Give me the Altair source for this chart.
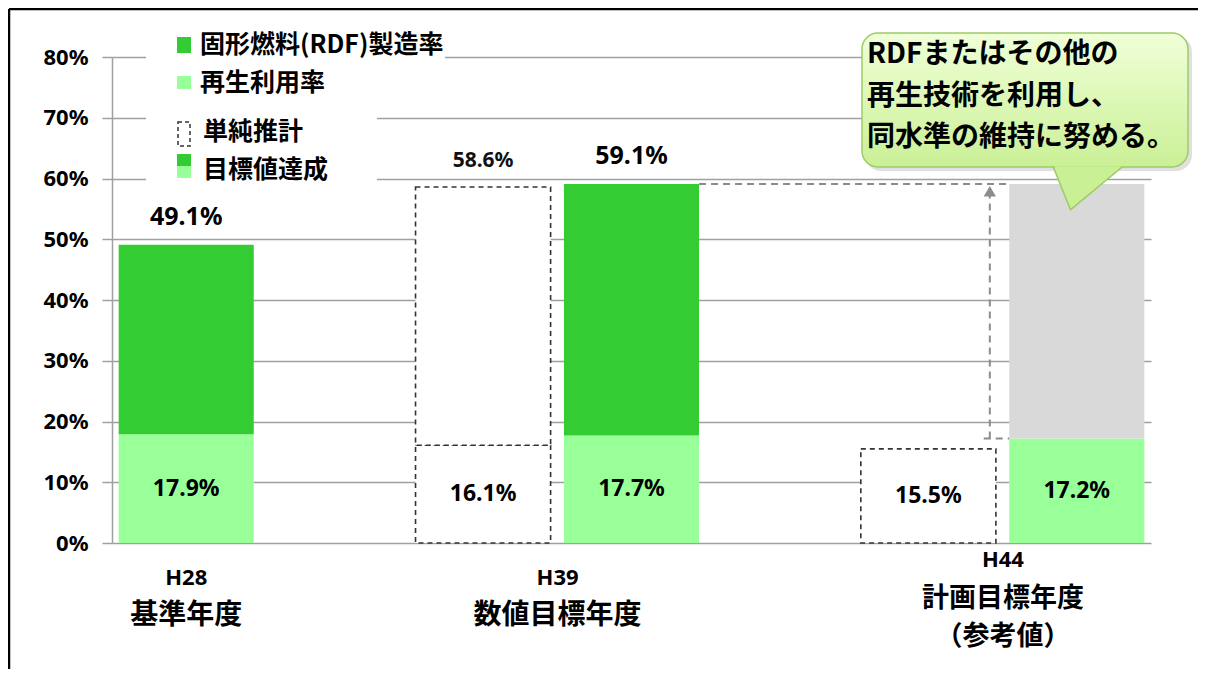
import altair as alt
import pandas as pd

CJK = "Noto Sans CJK JP"
LAT = "Noto Sans"

GREEN = "#33CC33"
LIGHT = "#99FF99"
GRAY = "#D9D9D9"
GRID = "#A0A0A0"
DASH = "#333333"
ARROW = "#8C8C8C"

# ---- data -------------------------------------------------------------
slots = ["H28", "gap1", "H39推計", "H39目標", "gap2", "H44推計", "H44目標"]

bar_slot = ["H28", "H39推計", "H39目標", "H44推計", "H44目標"]
bar_kind = ["実績", "推計", "目標", "推計", "目標"]
upper_kind = ["製造", "推計", "製造", "なし", "維持"]
recycle_rate = [17.9, 16.1, 17.7, 15.5, 17.2]
total_rate = [49.1, 58.6, 59.1, None, 59.1]

years = ["H28", "H39", "H44"]
year_names = [["基準年度"], ["数値目標年度"], ["計画目標年度", "（参考値）"]]
year_slot = ["H28", "H39推計", "H44推計"]

legend_labels = ["固形燃料(RDF)製造率", "再生利用率", "単純推計", "目標値達成"]
callout_lines = ["RDFまたはその他の", "再生技術を利用し、", "同水準の維持に努める。"]
y_ticks = [0, 10, 20, 30, 40, 50, 60, 70, 80]

# ---- geometry ---------------------------------------------------------
W, H = 1039, 486
xs = alt.Scale(domain=slots, paddingInner=0.09, paddingOuter=0.045)
ys = alt.Scale(domain=[0, 80], nice=False)
yaxis = alt.Axis(values=y_ticks, labelExpr="datum.value + '%'", labelFont=LAT,
                 labelFontSize=22, labelFontWeight="bold", labelColor="black",
                 labelPadding=14, tickSize=10, tickColor=GRID, tickWidth=1.5,
                 domainColor=GRID, domainWidth=1.5, gridColor=GRID, gridWidth=1.5,
                 grid=True, title=None)


def X(field, bp=None):
    if bp is None:
        return alt.X(field, type="nominal", scale=xs, axis=None)
    return alt.X(field, type="nominal", scale=xs, axis=None, bandPosition=bp)


def Y(field):
    return alt.Y(field, type="quantitative", scale=ys, axis=yaxis)


bars = pd.DataFrame({"slot": bar_slot, "kind": bar_kind, "upper": upper_kind,
                     "recycle": recycle_rate, "total": total_rate})
bars["base"] = 0.0
bars["mid"] = bars["recycle"] / 2
bars["lbl"] = bars["recycle"].map(lambda v: f"{v:.1f}%")
bars["tlbl"] = bars["total"].map(lambda v: "" if pd.isna(v) else f"{v:.1f}%")

solid_low = bars[bars["kind"] != "推計"]
dash_low = bars[bars["kind"] == "推計"]
solid_up = bars[bars["upper"].isin(["製造", "維持"])]
dash_up = bars[bars["upper"] == "推計"]

layers = []

layers.append(alt.Chart(solid_low).mark_bar(color=LIGHT).encode(
    x=X("slot"), y=Y("base"), y2="recycle:Q"))
layers.append(alt.Chart(solid_up).mark_bar().encode(
    x=X("slot"), y=Y("recycle"), y2="total:Q",
    color=alt.Color("upper:N", scale=alt.Scale(domain=["製造", "維持"], range=[GREEN, GRAY]), legend=None)))
layers.append(alt.Chart(dash_low).mark_bar(fill="white", stroke=DASH, strokeWidth=1.6, strokeDash=[5, 4]).encode(
    x=X("slot"), y=Y("base"), y2="recycle:Q"))
layers.append(alt.Chart(dash_up).mark_bar(fill="white", stroke=DASH, strokeWidth=1.6, strokeDash=[5, 4]).encode(
    x=X("slot"), y=Y("recycle"), y2="total:Q"))

# inner labels
layers.append(alt.Chart(bars).mark_text(font=LAT, fontSize=23, fontWeight="bold", color="black", baseline="middle").encode(
    x=X("slot"), y=Y("mid"), text="lbl:N"))
# top labels
layers.append(alt.Chart(bars[bars["upper"] == "製造"]).mark_text(font=LAT, fontSize=25, fontWeight="bold", color="black", baseline="middle", dy=-28).encode(
    x=X("slot"), y=Y("total"), text="tlbl:N"))
layers.append(alt.Chart(dash_up).mark_text(font=LAT, fontSize=21, fontWeight="bold", color="#111", baseline="middle", dy=-26).encode(
    x=X("slot"), y=Y("total"), text="tlbl:N"))

# ---- arrow annotation --------------------------------------------------
target_level = total_rate[2]
keep_base = recycle_rate[4]
arr_h = pd.DataFrame({"a": ["H39目標"], "b": ["H44目標"], "v": [target_level]})
layers.append(alt.Chart(arr_h).mark_rule(color=ARROW, strokeWidth=2, strokeDash=[7, 5]).encode(
    x=X("a", 1), x2=alt.X2("b", bandPosition=0), y=Y("v")))
arr_v = pd.DataFrame({"a": ["H44推計"], "lo": [keep_base], "hi": [target_level - 1.8], "head": [target_level - 1.2]})
layers.append(alt.Chart(arr_v).mark_rule(color=ARROW, strokeWidth=2, strokeDash=[7, 5]).encode(
    x=X("a", 0.955), y=Y("lo"), y2="hi:Q"))
layers.append(alt.Chart(arr_v).mark_point(shape="triangle-up", filled=True, color=ARROW, opacity=1, size=150).encode(
    x=X("a", 0.955), y=Y("head")))
arr_b = pd.DataFrame({"a": ["H44推計"], "b": ["H44目標"], "v": [keep_base]})
layers.append(alt.Chart(arr_b).mark_rule(color=ARROW, strokeWidth=2, strokeDash=[7, 5]).encode(
    x=X("a", 0.91), x2=alt.X2("b", bandPosition=0), y=Y("v")))

# ---- category labels ---------------------------------------------------
for i, (yr, nm, sl) in enumerate(zip(years, year_names, year_slot)):
    bp = 0.5 if i == 0 else 1.0
    ddx = 0 if i == 0 else 7
    multi = len(nm) > 1
    year_y = 503 if multi else 521
    name_y = 542 if multi else 559
    gap = 38
    fs = 27 if multi else 28
    d = pd.DataFrame({"slot": [sl], "t": [yr]})
    layers.append(alt.Chart(d).mark_text(font=LAT, fontSize=22, fontWeight="bold", color="black", baseline="middle", dx=ddx).encode(
        x=X("slot", bp), y=alt.value(year_y), text="t:N"))
    for j, line in enumerate(nm):
        d2 = pd.DataFrame({"slot": [sl], "t": [line]})
        layers.append(alt.Chart(d2).mark_text(font=CJK, fontSize=fs, fontWeight="bold", color="black", baseline="middle", dx=ddx).encode(
            x=X("slot", bp), y=alt.value(name_y + gap * j), text="t:N"))

# ---- legend (custom) ---------------------------------------------------
one = pd.DataFrame({"k": [0]})
layers.append(alt.Chart(one).mark_rect(fill="white").encode(
    x=alt.value(34), x2=alt.value(333), y=alt.value(-34), y2=alt.value(43)))
layers.append(alt.Chart(one).mark_rect(fill="white").encode(
    x=alt.value(34), x2=alt.value(265), y=alt.value(43), y2=alt.value(128)))
layers.append(alt.Chart(one).mark_rect(fill=GREEN).encode(
    x=alt.value(65), x2=alt.value(79), y=alt.value(-20), y2=alt.value(-4)))
layers.append(alt.Chart(one).mark_rect(fill=LIGHT).encode(
    x=alt.value(65), x2=alt.value(79), y=alt.value(19), y2=alt.value(32)))
layers.append(alt.Chart(one).mark_rect(fill="white", stroke=DASH, strokeWidth=1.5, strokeDash=[4, 3]).encode(
    x=alt.value(66), x2=alt.value(78), y=alt.value(65), y2=alt.value(89)))
layers.append(alt.Chart(one).mark_rect(fill=GREEN).encode(
    x=alt.value(65), x2=alt.value(79), y=alt.value(97), y2=alt.value(109)))
layers.append(alt.Chart(one).mark_rect(fill=LIGHT).encode(
    x=alt.value(65), x2=alt.value(79), y=alt.value(109), y2=alt.value(121)))
leg_y = [-12, 26, 75, 113]
leg_x = [88, 88, 91, 91]
for lab, ly, lx in zip(legend_labels, leg_y, leg_x):
    layers.append(alt.Chart(pd.DataFrame({"t": [lab]})).mark_text(
        font=CJK, fontSize=25, fontWeight="bold", color="black", align="left", baseline="middle").encode(
        x=alt.value(lx), y=alt.value(ly), text="t:N"))

# ---- callout -----------------------------------------------------------
grad = alt.Gradient(gradient="linear", stops=[alt.GradientStop(color="#F0FFD8", offset=0),
                                                alt.GradientStop(color="#CAF096", offset=1)],
                    x1=0, x2=0, y1=0, y2=1)
tail_path = "M -1 -0.62 L 1 -0.62 L -0.5 0.62 Z"
layers.append(alt.Chart(one).mark_rect(fill="black", opacity=0.12, cornerRadius=16).encode(
    x=alt.value(753), x2=alt.value(1080), y=alt.value(-21), y2=alt.value(114)))
layers.append(alt.Chart(one).mark_point(shape=tail_path, filled=True, fill="#CAF096", stroke="#9CCB68",
                                        strokeWidth=1.5, opacity=1, size=4900).encode(
    x=alt.value(976), y=alt.value(131)))
layers.append(alt.Chart(one).mark_rect(fill=grad, stroke="#9CCB68", strokeWidth=1.5, cornerRadius=16).encode(
    x=alt.value(750), x2=alt.value(1076), y=alt.value(-24), y2=alt.value(110)))
layers.append(alt.Chart(one).mark_point(shape=tail_path, filled=True, fill="#CAF096", strokeWidth=0,
                                        opacity=1, size=4500).encode(
    x=alt.value(976), y=alt.value(130)))
for j, line in enumerate(callout_lines):
    layers.append(alt.Chart(pd.DataFrame({"t": [line]})).mark_text(
        font=CJK, fontSize=28, fontWeight="bold", color="black", align="left", baseline="middle").encode(
        x=alt.value(755), y=alt.value(-2 + 41.5 * j), text="t:N"))

# ---- outer frame --------------------------------------------------------
layers.append(alt.Chart(one).mark_rule(color="black", strokeWidth=2.5).encode(
    x=alt.value(-103), x2=alt.value(1200), y=alt.value(-48)))
layers.append(alt.Chart(one).mark_rule(color="black", strokeWidth=2.5).encode(
    x=alt.value(-103), y=alt.value(-48), y2=alt.value(700)))

chart = alt.layer(*layers).properties(
    width=W, height=H,
    autosize=alt.AutoSizeParams(type="none"),
    padding={"left": 104, "top": 49, "right": 47, "bottom": 126},
).configure_view(stroke=None)

chart.save("out.html", embed_options={"renderer": "svg", "actions": False})
